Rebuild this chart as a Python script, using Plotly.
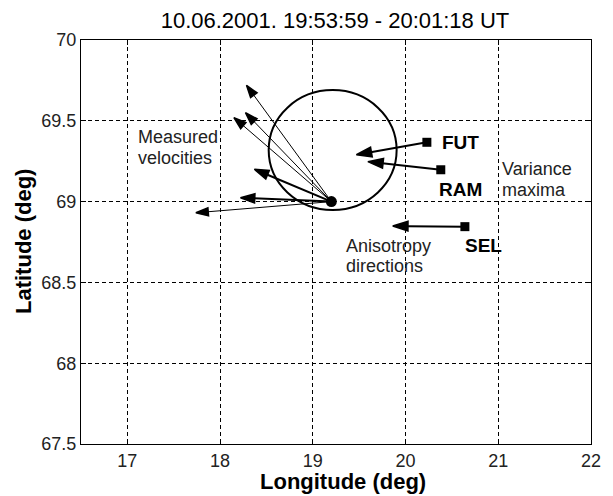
import plotly.graph_objects as go

# ---- data ----
x_ticks = [17, 18, 19, 20, 21, 22]
y_ticks = [67.5, 68, 68.5, 69, 69.5, 70]
y_tick_labels = ["67.5", "68", "68.5", "69", "69.5", "70"]

source_lon = 19.2
source_lat = 69.0

vel_tip_lon = [18.285, 18.274, 18.149, 18.37, 18.22, 17.739]
vel_tip_lat = [69.72, 69.55, 69.52, 69.2, 69.024, 68.931]
vel_thick = [False, False, False, True, True, False]

stations = ["FUT", "RAM", "SEL"]
st_lon = [20.23, 20.38, 20.64]
st_lat = [69.367, 69.197, 68.845]
st_tip_lon = [19.47, 19.594, 19.862]
st_tip_lat = [69.29, 69.247, 68.849]
st_label_lon = [20.376, 20.344, 20.619]
st_label_lat = [69.364, 69.078, 68.727]

circle_c_lon = 19.214
circle_c_lat = 69.319
circle_r_lon = 0.69
circle_r_lat = 0.371

notes = [
    ("Measured", 17.09, 69.398),
    ("velocities", 17.09, 69.272),
    ("Variance", 21.015, 69.200),
    ("maxima", 21.015, 69.072),
    ("Anisotropy", 19.34, 68.727),
    ("directions", 19.34, 68.603),
]

title_text = "10.06.2001. 19:53:59 - 20:01:18 UT"
x_title = "Longitude (deg)"
y_title = "Latitude (deg)"

FONT = "Liberation Sans, Arial, sans-serif"

# the page has an 8px body margin, so the figure is drawn 8px smaller
W, H, OFF = 605, 488, 8

fig = go.Figure()

# measured velocity arrows
for lo, la, thick in zip(vel_tip_lon, vel_tip_lat, vel_thick):
    fig.add_trace(go.Scatter(
        x=[source_lon, lo], y=[source_lat, la],
        mode="lines+markers",
        line=dict(color="black", width=2 if thick else 1),
        marker=dict(symbol="arrow", size=[0, 15 if thick else 13],
                    angleref="previous", color="#000000", opacity=1,
                    line=dict(width=1.5, color="#000000")),
        hoverinfo="skip", showlegend=False,
    ))

# station anisotropy arrows
for lo, la, tlo, tla in zip(st_lon, st_lat, st_tip_lon, st_tip_lat):
    fig.add_trace(go.Scatter(
        x=[lo, tlo], y=[la, tla],
        mode="lines+markers",
        line=dict(color="black", width=2),
        marker=dict(symbol="arrow", size=[0, 16],
                    angleref="previous", color="#000000", opacity=1,
                    line=dict(width=1.5, color="#000000")),
        hoverinfo="skip", showlegend=False,
    ))

# station squares
fig.add_trace(go.Scatter(
    x=st_lon, y=st_lat, mode="markers",
    marker=dict(symbol="square", size=9, color="black"),
    hoverinfo="skip", showlegend=False,
))

# source dot
fig.add_trace(go.Scatter(
    x=[source_lon], y=[source_lat], mode="markers",
    marker=dict(symbol="circle", size=11, color="black"),
    hoverinfo="skip", showlegend=False,
))

# circle
fig.add_shape(type="circle", xref="x", yref="y",
              x0=circle_c_lon - circle_r_lon, x1=circle_c_lon + circle_r_lon,
              y0=circle_c_lat - circle_r_lat, y1=circle_c_lat + circle_r_lat,
              line=dict(color="black", width=2))

# station labels
for name, lo, la in zip(stations, st_label_lon, st_label_lat):
    fig.add_annotation(x=lo, y=la, xref="x", yref="y", text="<b>" + name + "</b>",
                       showarrow=False, xanchor="left", yanchor="middle",
                       font=dict(family=FONT, size=19, color="black"))

# notes
for txt, lo, la in notes:
    fig.add_annotation(x=lo, y=la, xref="x", yref="y", text=txt,
                       showarrow=False, xanchor="left", yanchor="middle",
                       font=dict(family=FONT, size=18, color="#222222"))

# axis titles
fig.add_annotation(x=0.513, y=0, xref="paper", yref="paper", yshift=-37,
                   text="<b>" + x_title + "</b>", showarrow=False,
                   xanchor="center", yanchor="middle",
                   font=dict(family=FONT, size=22, color="black"))
fig.add_annotation(x=0, y=0.5, xref="paper", yref="paper", xshift=-58,
                   text="<b>" + y_title + "</b>", showarrow=False, textangle=-90,
                   xanchor="center", yanchor="middle",
                   font=dict(family=FONT, size=22, color="black"))

axis_common = dict(
    showline=True, linecolor="black", linewidth=1, mirror="ticks",
    ticks="inside", ticklen=5, tickcolor="black", tickwidth=1,
    showgrid=True, gridcolor="black", gridwidth=1, griddash="4px,3px",
    zeroline=False,
    tickfont=dict(family=FONT, size=18, color="#222222"),
)

fig.update_xaxes(range=[16.5, 22], tickvals=x_ticks, **axis_common)
fig.update_yaxes(range=[67.5, 70], tickvals=y_ticks, ticktext=y_tick_labels,
                 **axis_common)

fig.update_layout(
    width=W, height=H,
    margin=dict(l=81 - OFF, r=19, t=40 - OFF, b=52),
    paper_bgcolor="white", plot_bgcolor="white",
    title=dict(text=title_text, xref="container", yref="container",
               x=(335 - OFF) / W, y=1 - (20.5 - OFF) / H,
               xanchor="center", yanchor="middle",
               font=dict(family=FONT, size=22, color="black")),
    showlegend=False,
)

fig.write_html("out.html")
